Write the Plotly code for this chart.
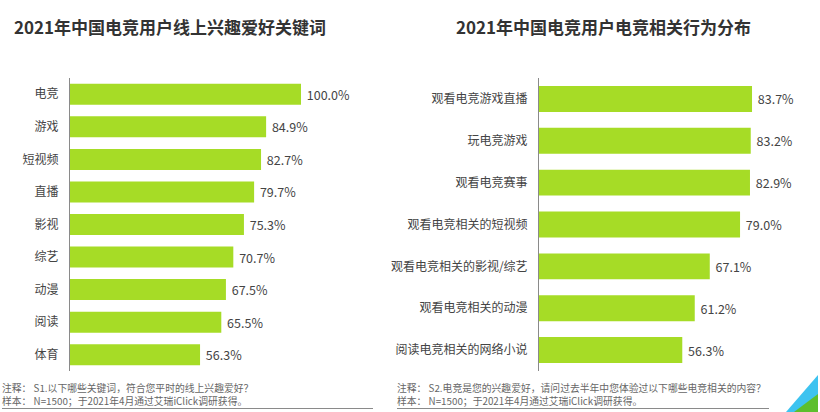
import plotly.graph_objects as go

W, H = 820, 412
FONT = "Noto Sans CJK SC"

left_title = "2021年中国电竞用户线上兴趣爱好关键词"
left_categories = ["电竞", "游戏", "短视频", "直播", "影视", "综艺", "动漫", "阅读", "体育"]
left_values = [100.0, 84.9, 82.7, 79.7, 75.3, 70.7, 67.5, 65.5, 56.3]

right_title = "2021年中国电竞用户电竞相关行为分布"
right_categories = ["观看电竞游戏直播", "玩电竞游戏", "观看电竞赛事", "观看电竞相关的短视频",
                    "观看电竞相关的影视/综艺", "观看电竞相关的动漫", "阅读电竞相关的网络小说"]
right_values = [83.7, 83.2, 82.9, 79.0, 67.1, 61.2, 56.3]

left_notes = ["注释： S1.以下哪些关键词，符合您平时的线上兴趣爱好？",
              "样本： N=1500；于2021年4月通过艾瑞iClick调研获得。"]
right_notes = ["注释： S2.电竞是您的兴趣爱好，请问过去半年中您体验过以下哪些电竞相关的内容？",
               "样本： N=1500；于2021年4月通过艾瑞iClick调研获得。"]

BAR = "#A6DC26"
TXT = "#444444"


def px(x):
    return x / W


def py(y):
    return 1 - y / H


fig = go.Figure()
for cats, vals, ax, gap in [(left_categories, left_values, "", 0.355),
                            (right_categories, right_values, "2", 0.38)]:
    fig.add_trace(go.Bar(
        y=cats, x=vals, orientation="h", xaxis="x" + ax, yaxis="y" + ax,
        marker=dict(color=BAR, line=dict(width=0)),
        text=[f"\u00a0{v:.1f}%" for v in vals], textposition="outside",
        textfont=dict(family=FONT, size=12.5, color=TXT),
        cliponaxis=False, width=1 - gap, showlegend=False, hoverinfo="skip",
    ))

xbase = dict(range=[0, 100], showgrid=False, zeroline=False, showticklabels=False,
             ticks="", showline=False, fixedrange=True)
ybase = dict(autorange="reversed", showgrid=False, zeroline=False, ticks="",
             showline=True, linecolor="#8a8a8a", linewidth=1, ticklabelstandoff=8,
             tickfont=dict(family=FONT, size=12, color=TXT), fixedrange=True)

fig.update_layout(
    width=W, height=H, autosize=False,
    margin=dict(l=0, r=0, t=0, b=0),
    paper_bgcolor="white", plot_bgcolor="white",
    font=dict(family=FONT),
    xaxis=dict(domain=[px(70), px(301)], anchor="y", **xbase),
    yaxis=dict(domain=[py(371), py(78)], anchor="x", **ybase),
    xaxis2=dict(domain=[px(539), px(793.5)], anchor="y2", **xbase),
    yaxis2=dict(domain=[py(371), py(78)], anchor="x2", **ybase),
)


def note(text, x, y, size, color, weight="normal"):
    fig.add_annotation(text=text, xref="paper", yref="paper", x=px(x), y=py(y),
                       xanchor="left", yanchor="middle", align="left", showarrow=False,
                       font=dict(family=FONT, size=size, color=color, weight=weight))


note(left_title, 12, 27, 17, "#333333", "bold")
note(right_title, 454, 27, 17, "#333333", "bold")
note("<br>".join(left_notes), 0, 394.5, 9.8, "#666666")
note("<br>".join(right_notes), 395, 394.5, 9.8, "#666666")

shapes = [
    dict(type="line", xref="paper", yref="paper", x0=px(2), x1=px(373), y0=py(408.5), y1=py(408.5),
         line=dict(color="#8a8a8a", width=1)),
    dict(type="line", xref="paper", yref="paper", x0=px(397), x1=px(769), y0=py(408.5), y1=py(408.5),
         line=dict(color="#8a8a8a", width=1)),
    dict(type="path", xref="paper", yref="paper",
         path=f"M {px(786)} {py(412)} L {px(818)} {py(375)} L {px(818)} {py(412)} Z",
         fillcolor="#3DC3F0", line=dict(width=0)),
    dict(type="path", xref="paper", yref="paper",
         path=f"M {px(794)} {py(412)} L {px(818)} {py(394)} L {px(818)} {py(412)} Z",
         fillcolor="#5DBF2C", line=dict(width=0)),
]
fig.update_layout(shapes=shapes)

fig.write_html("out.html", config={"displayModeBar": False},
               post_script="document.body.style.margin='0';document.documentElement.style.overflow='hidden';")
